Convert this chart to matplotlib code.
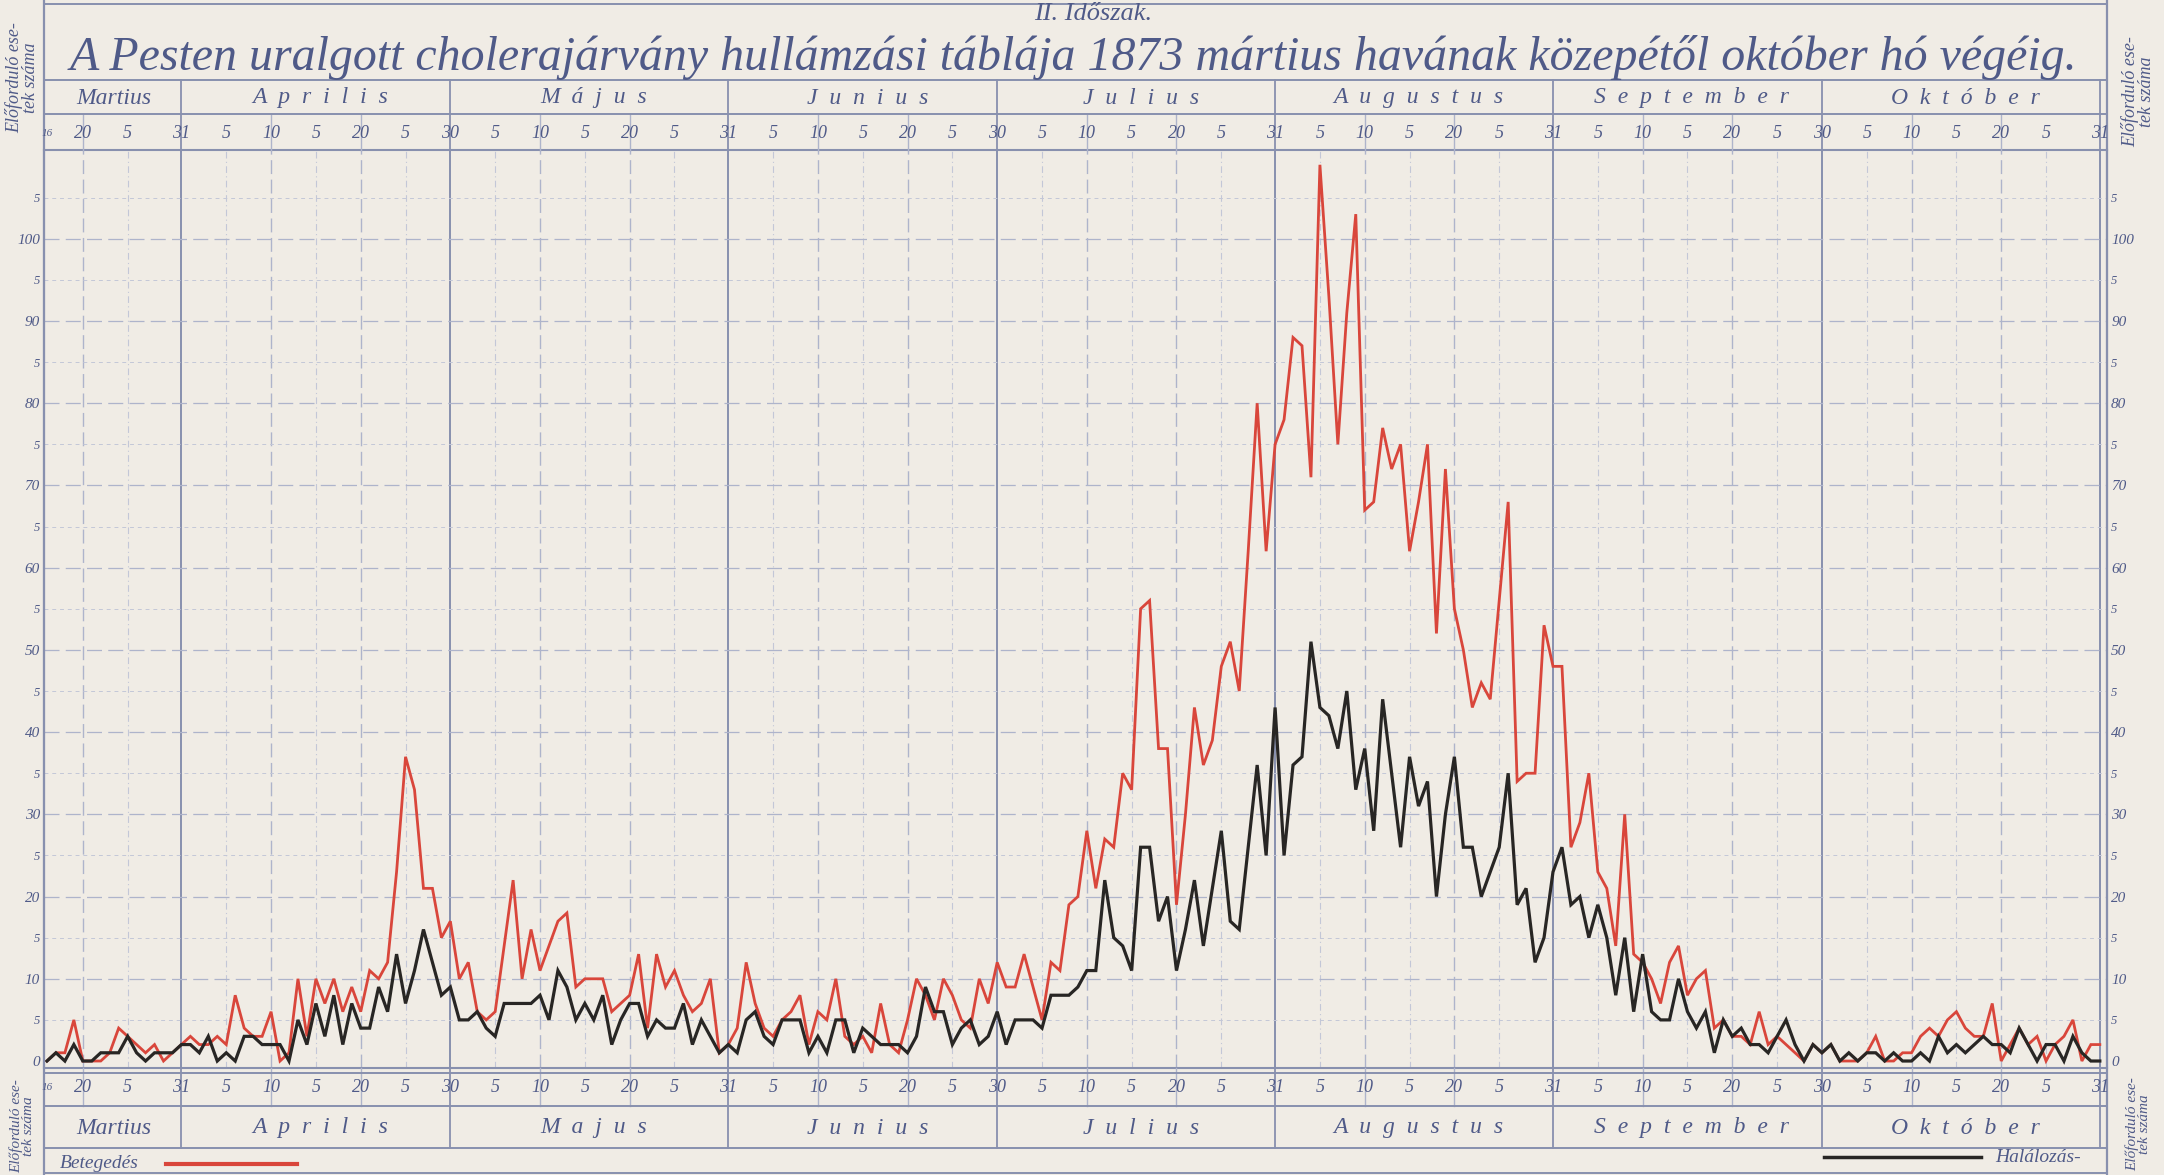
import numpy as np
import matplotlib.pyplot as plt
from matplotlib.transforms import blended_transform_factory

# napi esetszamok, 1873. marcius 16 - oktober 31 (230 nap)
betegedes = [
    0, 1, 1, 5, 0, 0, 0, 1, 4, 3,
    2, 1, 2, 0, 1, 2, 3, 2, 2, 3,
    2, 8, 4, 3, 3, 6, 0, 1, 10, 3,
    10, 7, 10, 6, 9, 6, 11, 10, 12, 23,
    37, 33, 21, 21, 15, 17, 10, 12, 6, 5,
    6, 14, 22, 10, 16, 11, 14, 17, 18, 9,
    10, 10, 10, 6, 7, 8, 13, 4, 13, 9,
    11, 8, 6, 7, 10, 1, 2, 4, 12, 7,
    4, 3, 5, 6, 8, 2, 6, 5, 10, 3,
    2, 3, 1, 7, 2, 1, 5, 10, 8, 5,
    10, 8, 5, 4, 10, 7, 12, 9, 9, 13,
    9, 5, 12, 11, 19, 20, 28, 21, 27, 26,
    35, 33, 55, 56, 38, 38, 19, 30, 43, 36,
    39, 48, 51, 45, 62, 80, 62, 75, 78, 88,
    87, 71, 109, 93, 75, 91, 103, 67, 68, 77,
    72, 75, 62, 68, 75, 52, 72, 55, 50, 43,
    46, 44, 56, 68, 34, 35, 35, 53, 48, 48,
    26, 29, 35, 23, 21, 14, 30, 13, 12, 10,
    7, 12, 14, 8, 10, 11, 4, 5, 3, 3,
    2, 6, 2, 3, 2, 1, 0, 2, 1, 2,
    0, 0, 0, 1, 3, 0, 0, 1, 1, 3,
    4, 3, 5, 6, 4, 3, 3, 7, 0, 2,
    4, 2, 3, 0, 2, 3, 5, 0, 2, 2,
]
halalozas = [
    0, 1, 0, 2, 0, 0, 1, 1, 1, 3,
    1, 0, 1, 1, 1, 2, 2, 1, 3, 0,
    1, 0, 3, 3, 2, 2, 2, 0, 5, 2,
    7, 3, 8, 2, 7, 4, 4, 9, 6, 13,
    7, 11, 16, 12, 8, 9, 5, 5, 6, 4,
    3, 7, 7, 7, 7, 8, 5, 11, 9, 5,
    7, 5, 8, 2, 5, 7, 7, 3, 5, 4,
    4, 7, 2, 5, 3, 1, 2, 1, 5, 6,
    3, 2, 5, 5, 5, 1, 3, 1, 5, 5,
    1, 4, 3, 2, 2, 2, 1, 3, 9, 6,
    6, 2, 4, 5, 2, 3, 6, 2, 5, 5,
    5, 4, 8, 8, 8, 9, 11, 11, 22, 15,
    14, 11, 26, 26, 17, 20, 11, 16, 22, 14,
    21, 28, 17, 16, 26, 36, 25, 43, 25, 36,
    37, 51, 43, 42, 38, 45, 33, 38, 28, 44,
    35, 26, 37, 31, 34, 20, 30, 37, 26, 26,
    20, 23, 26, 35, 19, 21, 12, 15, 23, 26,
    19, 20, 15, 19, 15, 8, 15, 6, 13, 6,
    5, 5, 10, 6, 4, 6, 1, 5, 3, 4,
    2, 2, 1, 3, 5, 2, 0, 2, 1, 2,
    0, 1, 0, 1, 1, 0, 1, 0, 0, 1,
    0, 3, 1, 2, 1, 2, 3, 2, 2, 1,
    4, 2, 0, 2, 2, 0, 3, 1, 0, 0,
]

honapok_fent = ["Martius", "A p r i l i s", "M á j u s", "J u n i u s",
                "J u l i u s", "A u g u s t u s", "S e p t e m b e r", "O k t ó b e r"]
honapok_lent = ["Martius", "A p r i l i s", "M a j u s", "J u n i u s",
                "J u l i u s", "A u g u s t u s", "S e p t e m b e r", "O k t ó b e r"]
honap_hossz = [31, 30, 31, 30, 31, 31, 30, 31]
elso_nap = 16
nap_cimkek = [5, 10, 15, 20, 25]
y_ertekek = list(range(0, 110, 5))

cim = "A Pesten uralgott cholerajárvány hullámzási táblája 1873 mártius havának közepétől október hó végéig."
alcim = "II. Időszak."
oldal_felirat = "Előforduló ese-\ntek száma"

papir = '#f0ece5'
tinta = '#4f5a88'
racs = '#aeb4cb'
racs2 = '#c3c7d7'
keret = '#8890ae'
piros = '#d9463b'
fekete = '#282624'

plt.rcParams['font.family'] = ['Liberation Serif', 'DejaVu Serif']
plt.rcParams['font.style'] = 'italic'

W, H = 2164, 1175
fig = plt.figure(figsize=(W / 100, H / 100), dpi=100, facecolor=papir)


def fx(px):
    return px / W


def fy(py):
    return 1 - py / H


# fo rajzterulet
ax = fig.add_axes([fx(44), fy(1068), fx(2107) - fx(44), fy(150) - fy(1068)])
ax.set_facecolor(papir)

# diszito reteg pixel koordinatakkal (y lefele no)
deco = fig.add_axes([0, 0, 1, 1], zorder=5)
deco.set_xlim(0, W)
deco.set_ylim(H, 0)
deco.axis('off')
deco.patch.set_visible(False)
tr = blended_transform_factory(ax.transData, deco.transData)

napok = np.arange(len(betegedes))
ax.plot(napok, betegedes, color=piros, lw=2.0, zorder=3, solid_joinstyle='miter')
ax.plot(napok, halalozas, color=fekete, lw=2.3, zorder=4, solid_joinstyle='miter')
ax.set_xlim(-0.33, len(napok) - 1 + 0.8)
ax.set_ylim(-0.85, 110.8)

# honapok kezdo indexe
kezdet = []
off = -(elso_nap - 1)
for h in honap_hossz:
    kezdet.append(off)
    off += h

# fuggoleges racs
for m, h in enumerate(honap_hossz):
    for d in nap_cimkek + [h]:
        i = kezdet[m] + d - 1
        if i < 0:
            continue
        if d == h:
            ax.axvline(i, color=keret, lw=1.4, zorder=1)
            for y0, y1 in [(80, 150), (1068, 1148)]:
                deco.plot([i, i], [y0, y1], color=keret, lw=1.3, transform=tr)
        elif d in (10, 20):
            ax.axvline(i, color=racs, lw=1.0, dashes=(10, 4), zorder=1)
            for y0, y1 in [(114, 150), (1068, 1106)]:
                deco.plot([i, i], [y0, y1], color=racs, lw=1.0, transform=tr)
        else:
            ax.axvline(i, color=racs2, lw=0.8, dashes=(6, 3, 1, 3), zorder=1)

# vizszintes racs
for v in y_ertekek[1:]:
    if v % 10 == 0:
        ax.axhline(v, color=racs, lw=0.9, dashes=(12, 5), zorder=1)
    else:
        ax.axhline(v, color=racs2, lw=0.7, dashes=(4, 4), zorder=1)

for s in ax.spines.values():
    s.set_color(keret)
    s.set_linewidth(1.5)

ax.set_xticks([])
ax.set_yticks(y_ertekek)
ax.set_yticklabels(["5" if v % 10 == 5 else str(v) for v in y_ertekek])
ax.tick_params(axis='y', length=0, pad=3, labelsize=11, labelcolor=tinta,
               left=True, right=True, labelleft=True, labelright=True)
for v, t in zip(y_ertekek, ax.yaxis.get_major_ticks()):
    for lab in (t.label1, t.label2):
        lab.set_style('italic')
        if v % 10 == 5:
            lab.set_fontsize(9)

# keret vonalak
for y in [4, 80, 114]:
    deco.plot([44, 2107], [y, y], color=keret, lw=1.4)
for y in [1073, 1106, 1148, 1173]:
    deco.plot([44, 2107], [y, y], color=keret, lw=1.4)
for x in [44, 2107]:
    deco.plot([x, x], [0, H], color=keret, lw=1.6)

# nap- es honapfeliratok fent es lent
for m, h in enumerate(honap_hossz):
    for d in nap_cimkek + [h]:
        i = kezdet[m] + d - 1
        if i < 0:
            continue
        lab = "5" if d % 10 == 5 else str(d)
        for y in (134, 1087):
            deco.text(i, y, lab, transform=tr, ha='center', va='center',
                      fontsize=13, color=tinta)
    a = max(kezdet[m], 0)
    b = kezdet[m] + h - 1
    deco.text((a + b) / 2, 98, honapok_fent[m].replace(' ', '\u2002'), transform=tr,
              ha='center', va='center', fontsize=17, color=tinta)
    deco.text((a + b) / 2, 1128, honapok_lent[m].replace(' ', '\u2002'), transform=tr,
              ha='center', va='center', fontsize=17, color=tinta)
for y in (134, 1087):
    deco.text(0, y, str(elso_nap), transform=tr, ha='center', va='center',
              fontsize=8, color=tinta)

# cimek
deco.text(1093, 14, alcim, ha='center', va='center', fontsize=19, color=tinta)
t = deco.text(1073, 70, cim, ha='center', va='baseline', fontsize=32, color=tinta)
fig.canvas.draw()
w = t.get_window_extent().width
t.set_fontsize(32 * 2008 / w)

# oldalso feliratok
for x, y, fs in [(22, 78, 13), (22, 1126, 11), (2138, 92, 13), (2138, 1124, 11)]:
    deco.text(x, y, oldal_felirat, rotation=90, ha='center', va='center',
              fontsize=fs, color=tinta, linespacing=0.9)

# jelmagyarazat
deco.text(60, 1163, "Betegedés", ha='left', va='center', fontsize=14, color=tinta)
deco.plot([166, 297], [1164, 1164], color=piros, lw=3)
deco.plot([1824, 1981], [1157, 1157], color=fekete, lw=2.5)
deco.text(1995, 1157, "Halálozás-", ha='left', va='center', fontsize=14, color=tinta)

fig.savefig('out.png', dpi=100, facecolor=papir)
